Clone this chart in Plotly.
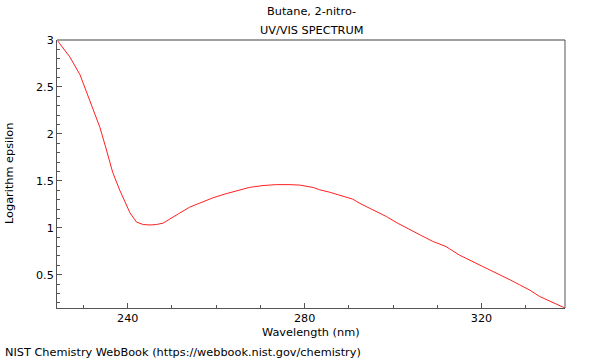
import plotly.graph_objects as go

wavelength = [224.0, 226.9, 229.2, 231.0, 232.5, 233.7, 235.0, 236.6, 238.2, 239.5,
              240.5, 242.0, 243.5, 245.0, 246.5, 248.0, 249.5, 251.5, 254.0, 256.5,
              259.3, 262.0, 264.6, 267.5, 270.6, 273.6, 276.5, 278.9, 281.9, 283.4,
              285.6, 288.0, 290.9, 292.5, 294.7, 296.5, 298.5, 301.0, 303.7, 306.3,
              309.0, 312.0, 315.0, 317.0, 319.5, 322.0, 324.1, 326.5, 328.6, 331.0,
              333.1, 336.0, 338.9]
log_eps = [3.00, 2.82, 2.63, 2.40, 2.22, 2.07, 1.86, 1.59, 1.40, 1.27,
           1.16, 1.06, 1.035, 1.03, 1.035, 1.05, 1.09, 1.15, 1.22, 1.27,
           1.32, 1.36, 1.39, 1.43, 1.45, 1.46, 1.46, 1.455, 1.43, 1.405,
           1.38, 1.345, 1.305, 1.26, 1.21, 1.17, 1.12, 1.05, 0.98, 0.92,
           0.855, 0.80, 0.71, 0.665, 0.606, 0.55, 0.50, 0.445, 0.394, 0.335,
           0.27, 0.21, 0.146]

x_ticks = [240, 280, 320]
y_ticks = [0.5, 1, 1.5, 2, 2.5, 3]
y_tick_text = ["0.5", "1", "1.5", "2", "2.5", "3"]

title_lines = ["Butane, 2-nitro-", "UV/VIS SPECTRUM"]
x_title = "Wavelength (nm)"
y_title = "Logarithm epsilon"
credit = "NIST Chemistry WebBook (https://webbook.nist.gov/chemistry)"

FONT = "DejaVu Sans"
AXC = "#555555"
TXT = 11.3
TICK = 11.2

# plot area in pixels
L, R, T, B = 57, 565, 40, 308
PW, PH = R - L, B - T


def px(xp):
    return (xp - L) / PW


def py(yp):
    return (B - yp) / PH


fig = go.Figure(go.Scatter(x=wavelength, y=log_eps, mode="lines",
                           line=dict(color="#ff2020", width=1), hoverinfo="skip"))

ann = [
    dict(text=title_lines[0], x=px(311), y=py(12)),
    dict(text=title_lines[1], x=px(311), y=py(30)),
    dict(text=x_title, x=px(311), y=py(332)),
    dict(text=y_title, x=px(9), y=py(174), textangle=-90),
    dict(text=credit, x=px(3), y=py(352), xanchor="left"),
]
for a in ann:
    a.setdefault("xanchor", "center")
    a.update(xref="paper", yref="paper", yanchor="middle", showarrow=False,
             font=dict(family=FONT, size=TXT, color="black"))

fig.update_layout(
    width=600, height=360,
    margin=dict(l=L, r=600 - R, t=T, b=360 - B, autoexpand=False),
    paper_bgcolor="white", plot_bgcolor="white",
    showlegend=False,
    font=dict(family=FONT, size=TICK, color="black"),
    xaxis=dict(range=[min(wavelength), max(wavelength)], tickvals=x_ticks,
               ticks="inside", ticklen=5, tickcolor=AXC, showgrid=False, zeroline=False,
               showline=True, linecolor=AXC, linewidth=1, automargin=False,
               minor=dict(dtick=10, tick0=0, ticks="inside", ticklen=3, tickcolor=AXC, showgrid=False),
               tickfont=dict(size=TICK)),
    yaxis=dict(range=[min(log_eps), 3.0], tickvals=y_ticks, ticktext=y_tick_text,
               ticks="inside", ticklen=5, tickcolor=AXC, showgrid=False, zeroline=False,
               showline=True, linecolor=AXC, linewidth=1, automargin=False,
               minor=dict(dtick=0.1, tick0=0, ticks="inside", ticklen=3, tickcolor=AXC, showgrid=False),
               tickfont=dict(size=TICK)),
    shapes=[
        dict(type="line", xref="paper", yref="paper", x0=0, x1=1, y0=1, y1=1,
             line=dict(color="#a0a0a0", width=2)),
        dict(type="line", xref="paper", yref="paper", x0=1, x1=1, y0=0, y1=1,
             line=dict(color=AXC, width=1)),
    ],
    annotations=ann,
)

fig.write_html("out.html", config={"displayModeBar": False},
               post_script="document.body.style.margin='0';document.body.style.overflow='hidden';")
